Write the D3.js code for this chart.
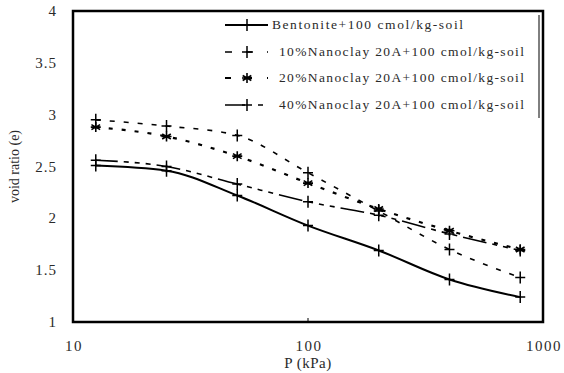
<!DOCTYPE html>
<html><head><meta charset="utf-8">
<script src="https://cdn.jsdelivr.net/npm/d3@7"></script>
<style>body{margin:0;background:#fff}svg{display:block}text{font-family:'Liberation Serif','Times New Roman',serif}</style>
</head><body><svg id="c" width="564" height="373"></svg>
<script>
const pressures = [12.5, 25, 50, 100, 200, 400, 800];
const bentonite = [2.51, 2.46, 2.22, 1.93, 1.69, 1.41, 1.24];
const nano10 = [2.95, 2.89, 2.80, 2.44, 2.07, 1.70, 1.43];
const nano20 = [2.88, 2.79, 2.60, 2.34, 2.09, 1.88, 1.70];
const nano40 = [2.56, 2.50, 2.33, 2.16, 2.03, 1.85, 1.69];
const seriesNames = ["Bentonite+100 cmol/kg-soil", "10%Nanoclay 20A+100 cmol/kg-soil", "20%Nanoclay 20A+100 cmol/kg-soil", "40%Nanoclay 20A+100 cmol/kg-soil"];
const xTicks = [10, 100, 1000];
const yTicks = [1, 1.5, 2, 2.5, 3, 3.5, 4];

const series = [
  {name: seriesNames[0], vals: bentonite, dash: null, off: 0, w: 2, marker: "plus"},
  {name: seriesNames[1], vals: nano10, dash: "5,9", off: 0, w: 1.6, marker: "plus"},
  {name: seriesNames[2], vals: nano20, dash: "4,9", off: 0, w: 2.2, marker: "star"},
  {name: seriesNames[3], vals: nano40, dash: "24,6,5,6,5,6,5,6", off: 2, w: 1.6, marker: "plus"}
];

const svg = d3.select("#c");
const L = 73, R = 543, T = 11, B = 322;
const x = d3.scaleLog().domain([10, 1000]).range([L, R]);
const y = d3.scaleLinear().domain([1, 4]).range([B, T]);
const col = "#2a2a2a";

svg.selectAll(".yt").data(yTicks).enter().append("text")
  .attr("x", 57).attr("y", d => y(d) + 5).attr("text-anchor", "end")
  .attr("font-size", 15).attr("letter-spacing", 1).attr("fill", col).text(d => d);
svg.selectAll(".xt").data(xTicks).enter().append("text")
  .attr("x", d => x(d) + 1).attr("y", 351).attr("text-anchor", "middle")
  .attr("font-size", 15).attr("letter-spacing", 1.5).attr("fill", col).text(d => d);
svg.append("line").attr("x1", x(100)).attr("x2", x(100)).attr("y1", B).attr("y2", B - 4)
  .attr("stroke", "#000").attr("stroke-width", 1);

svg.append("text").attr("x", x(100)).attr("y", 368).attr("text-anchor", "middle")
  .attr("font-size", 15).attr("letter-spacing", 0.5).attr("fill", col).text("P (kPa)");
svg.append("text").attr("transform", `translate(19,${(T + B) / 2}) rotate(-90)`)
  .attr("text-anchor", "middle").attr("font-size", 14).attr("fill", col)
  .text("void ratio (e)");

const line = d3.line().x(d => x(d[0])).y(d => y(d[1])).curve(d3.curveMonotoneX);

function drawMarker(g, type, cx, cy) {
  if (type === "plus") {
    g.append("path").attr("d", `M${cx - 5},${cy}H${cx + 5}M${cx},${cy - 6}V${cy + 6}`)
      .attr("stroke", "#000").attr("stroke-width", 1.5).attr("fill", "none");
  } else {
    const r = 5;
    let d = "";
    [0, 60, 120].forEach(a => {
      const rad = (a + 90) * Math.PI / 180;
      d += `M${cx - r * Math.cos(rad)},${cy - r * Math.sin(rad)}L${cx + r * Math.cos(rad)},${cy + r * Math.sin(rad)}`;
    });
    d += `M${cx - 5},${cy}H${cx + 5}`;
    g.append("path").attr("d", d).attr("stroke", "#000").attr("stroke-width", 1.6).attr("fill", "none");
  }
}

series.forEach(s => {
  const pts = pressures.map((p, i) => [p, s.vals[i]]);
  const g = svg.append("g");
  g.append("path").attr("d", line(pts)).attr("fill", "none").attr("stroke", "#000")
    .attr("stroke-width", s.w).attr("stroke-dasharray", s.dash).attr("stroke-dashoffset", s.off);
  pts.forEach(p => drawMarker(g, s.marker, x(p[0]), y(p[1])));
});

const legY = [25, 52, 78, 105];
const legDash = [null, "7,14", "6,15", "20,13,5,20"];
const legTextX = [272, 279, 279, 279];
const legTextLen = [191, 245, 245, 245];
series.forEach((s, i) => {
  const g = svg.append("g");
  const ly = legY[i];
  g.append("line").attr("x1", 225).attr("x2", 268).attr("y1", ly).attr("y2", ly)
    .attr("stroke", "#000").attr("stroke-width", s.w).attr("stroke-dasharray", legDash[i]);
  drawMarker(g, s.marker, 247, ly);
  g.append("text").attr("x", legTextX[i]).attr("y", ly + 4)
    .attr("font-size", 13.5).attr("fill", col).attr("textLength", legTextLen[i])
    .attr("lengthAdjust", "spacing").text(s.name);
});
svg.append("line").attr("x1", 539).attr("x2", 539).attr("y1", 15).attr("y2", 118)
  .attr("stroke", "#000").attr("stroke-width", 1);

svg.append("rect").attr("x", L).attr("y", T).attr("width", R - L).attr("height", B - T)
  .attr("fill", "none").attr("stroke", "#000").attr("stroke-width", 2.5);
</script></body></html>
